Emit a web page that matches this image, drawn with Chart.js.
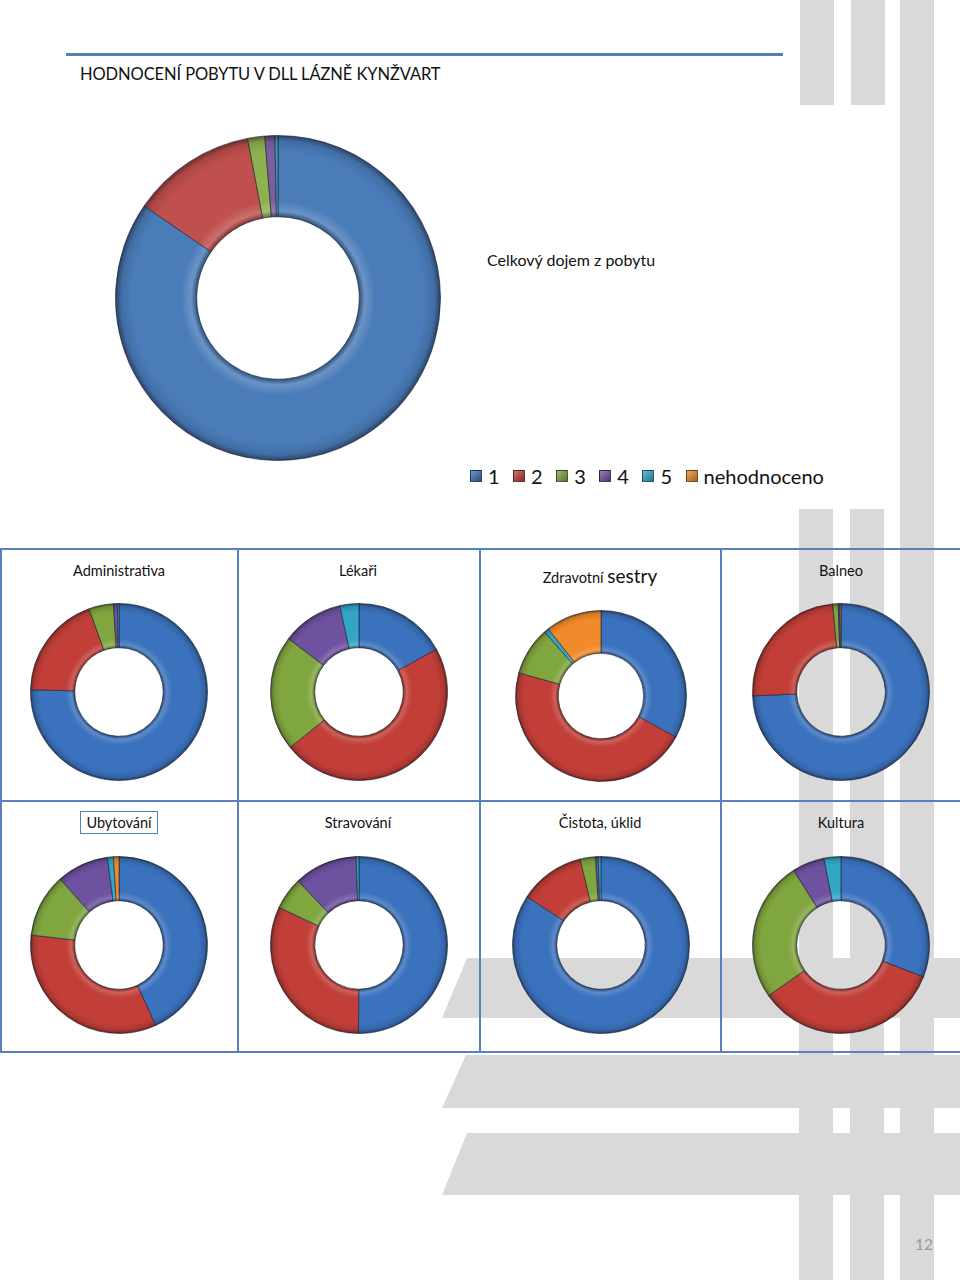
<!DOCTYPE html>
<html lang="cs">
<head>
<meta charset="utf-8">
<title>Hodnocení pobytu</title>
<script src="https://cdn.jsdelivr.net/npm/chart.js@4.4.1/dist/chart.umd.min.js"></script>
<style>
  html, body { margin: 0; padding: 0; }
  body {
    width: 960px; height: 1280px; position: relative; overflow: hidden;
    background: #fff; font-family: Lato, "Open Sans", sans-serif; color: #111;
  }
  .stripe { position: absolute; background: #d9d9d9; }
  .hstripe { position: absolute; left: 0; width: 960px; background: #d9d9d9; }
  .rule { position: absolute; left: 66px; top: 53px; width: 717px; height: 3px; background: #5581bb; }
  .page-title { position: absolute; left: 80px; top: 64px; font-size: 16.5px; letter-spacing: -0.1px; }
  .chart-title { position: absolute; left: 487px; top: 250px; font-size: 16px; }
  .legend { position: absolute; left: 470px; top: 464px; display: flex; align-items: center; font-size: 20px; }
  .legend span.item { display: flex; align-items: center; margin-right: 13.5px; }
  .legend i {
    display: inline-block; width: 12px; height: 12px; margin-right: 6px;
    border: 1px solid rgba(0,0,0,.45); box-sizing: border-box;
  }
  .grid-line { position: absolute; background: #5a7fbf; }
  .cell-title { position: absolute; width: 238px; text-align: center; font-size: 14.5px; }
  .cell-title .boxed { border: 1px solid #4f7fbf; padding: 2px 5px; }
  .chart { position: absolute; }
  .page-no { position: absolute; left: 915px; top: 1235px; font-size: 15.5px; color: #9a9a9a; }
</style>
</head>
<body>

<!-- background stripes -->
<div class="stripe" style="left:800px; top:0; width:34px; height:105px;"></div>
<div class="stripe" style="left:851px; top:0; width:34px; height:105px;"></div>
<div class="stripe" style="left:900px; top:0; width:34px; height:1280px;"></div>
<div class="stripe" style="left:799px; top:509px; width:34px; height:771px;"></div>
<div class="stripe" style="left:850px; top:509px; width:34px; height:771px;"></div>
<div class="hstripe" style="top:958px; height:60px; clip-path: polygon(467px 0, 960px 0, 960px 100%, 442px 100%);"></div>
<div class="hstripe" style="top:1055px; height:53px; clip-path: polygon(466px 0, 960px 0, 960px 100%, 442px 100%);"></div>
<div class="hstripe" style="top:1133px; height:62px; clip-path: polygon(467px 0, 960px 0, 960px 100%, 442px 100%);"></div>

<div class="rule"></div>
<div class="page-title">HODNOCENÍ POBYTU V DLL LÁZNĚ KYNŽVART</div>

<canvas id="chart-overall" class="chart" width="326" height="326" style="left:115px; top:135px;"></canvas>
<div class="chart-title">Celkový dojem z pobytu</div>
<div class="legend" id="legend"></div>

<!-- table grid -->
<div class="grid-line" style="left:0; top:548px; width:960px; height:2px;"></div>
<div class="grid-line" style="left:0; top:800px; width:960px; height:2px;"></div>
<div class="grid-line" style="left:0; top:1051px; width:960px; height:2px;"></div>
<div class="grid-line" style="left:0; top:548px; width:2px; height:505px;"></div>
<div class="grid-line" style="left:237px; top:548px; width:2px; height:505px;"></div>
<div class="grid-line" style="left:479px; top:548px; width:2px; height:505px;"></div>
<div class="grid-line" style="left:720px; top:548px; width:2px; height:505px;"></div>

<div id="panels"></div>
<div class="page-no">12</div>

<script>
// Categories (ratings) and their colours
const categories = ['1', '2', '3', '4', '5', 'nehodnoceno'];
const sliceColors = ['#3b72bd', '#c13f38', '#80a63f', '#6e52a0', '#33a6c8', '#f08a2a'];
// the big chart uses the softer Office palette
const overallColors = ['#4a7cb9', '#c0504d', '#8db24f', '#7a5fa0', '#3f9fba', '#f08a2a'];

// Share of answers (%) per rating
const overallValues = [84.6, 12.4, 1.7, 1.0, 0.3, 0];
const administrativaValues = [75.4, 19.1, 4.5, 0.7, 0.3, 0];
const lekariValues = [17.0, 47.2, 21.1, 11.2, 3.5, 0];
const sestryValues = [33.0, 46.4, 9.1, 0, 0.9, 10.6];
const balneoValues = [74.3, 24.2, 1.0, 0.3, 0, 0.2];
const ubytovaniValues = [43.2, 33.6, 11.6, 9.5, 1.1, 1.0];
const stravovaniValues = [50.1, 31.9, 5.9, 11.6, 0.5, 0];
const cistotaValues = [84.2, 12.0, 2.8, 0.5, 0.5, 0];
const kulturaValues = [30.9, 34.4, 25.7, 5.9, 3.1, 0];

const panelTitles = ['Administrativa', 'Lékaři', 'Zdravotní sestry', 'Balneo',
  'Ubytování', 'Stravování', 'Čistota, úklid', 'Kultura'];
const panelValues = [administrativaValues, lekariValues, sestryValues, balneoValues,
  ubytovaniValues, stravovaniValues, cistotaValues, kulturaValues];

// layout of the small charts (centre x, centre y, size)
const panelLayout = [
  [118.5, 691.5, 178], [358.5, 692, 178], [600.5, 695.5, 172], [841, 692, 178],
  [118.5, 944.5, 178], [358.5, 944.5, 178], [600.5, 944.5, 178], [841, 944.5, 178]
];

function shade(hex, amt) {
  const n = parseInt(hex.slice(1), 16);
  let r = n >> 16, g = (n >> 8) & 255, b = n & 255;
  const f = c => Math.round(amt < 0 ? c * (1 + amt) : c + (255 - c) * amt);
  return `rgb(${f(r)},${f(g)},${f(b)})`;
}

// radial gradient to get the bevelled look of the original
function bevel(palette) {
  return function (context) {
    const base = palette[context.dataIndex];
    const chart = context.chart;
    const ctrl = chart.getDatasetMeta(0).controller;
    const area = chart.chartArea;
    if (!area || !ctrl || !ctrl.outerRadius) return base;
    const cx = (area.left + area.right) / 2, cy = (area.top + area.bottom) / 2;
    const g = chart.ctx.createRadialGradient(cx, cy, ctrl.innerRadius, cx, cy, ctrl.outerRadius);
    g.addColorStop(0, shade(base, -0.35));
    g.addColorStop(0.07, shade(base, 0.18));
    g.addColorStop(0.2, base);
    g.addColorStop(0.8, base);
    g.addColorStop(0.93, shade(base, -0.12));
    g.addColorStop(1, shade(base, -0.45));
    return g;
  };
}

function makeDoughnut(canvas, values, palette) {
  return new Chart(canvas, {
    type: 'doughnut',
    data: {
      labels: categories,
      datasets: [{
        data: values,
        backgroundColor: bevel(palette),
        borderColor: 'rgba(25, 30, 45, .6)',
        borderWidth: 1,
        hoverOffset: 0
      }]
    },
    options: {
      responsive: false,
      animation: false,
      cutout: '50%',
      layout: { padding: 0 },
      plugins: {
        legend: { display: false },
        tooltip: {
          callbacks: {
            label: function (context) {
              return ' ' + context.parsed + ' %';
            }
          }
        }
      }
    }
  });
}

// Big chart
makeDoughnut(document.getElementById('chart-overall'), overallValues, overallColors);

// Legend
const legendEl = document.getElementById('legend');
categories.forEach((c, i) => {
  const item = document.createElement('span');
  item.className = 'item';
  item.innerHTML = `<i style="background: linear-gradient(135deg, ${shade(sliceColors[i], 0.25)}, ${shade(sliceColors[i], -0.3)})"></i>${c}`;
  legendEl.appendChild(item);
});

// Small charts
const panelsEl = document.getElementById('panels');
panelTitles.forEach((title, i) => {
  const [cx, cy, size] = panelLayout[i];
  const row = i < 4 ? 0 : 1;
  const col = i % 4;
  const t = document.createElement('div');
  t.className = 'cell-title';
  t.style.left = [0, 239, 481, 722][col] + 'px';
  t.style.top = (row === 0 ? 562 : 814) + 'px';
  if (title === 'Zdravotní sestry') {
    t.innerHTML = 'Zdravotní <span style="font-size:19px">sestry</span>';
    t.style.top = '564px';
  } else if (title === 'Ubytování') {
    t.innerHTML = `<span class="boxed">${title}</span>`;
  } else {
    t.textContent = title;
  }
  panelsEl.appendChild(t);

  const cv = document.createElement('canvas');
  cv.className = 'chart';
  cv.width = size; cv.height = size;
  cv.style.left = (cx - size / 2) + 'px';
  cv.style.top = (cy - size / 2) + 'px';
  panelsEl.appendChild(cv);
  makeDoughnut(cv, panelValues[i], sliceColors);
});
</script>
</body>
</html>
